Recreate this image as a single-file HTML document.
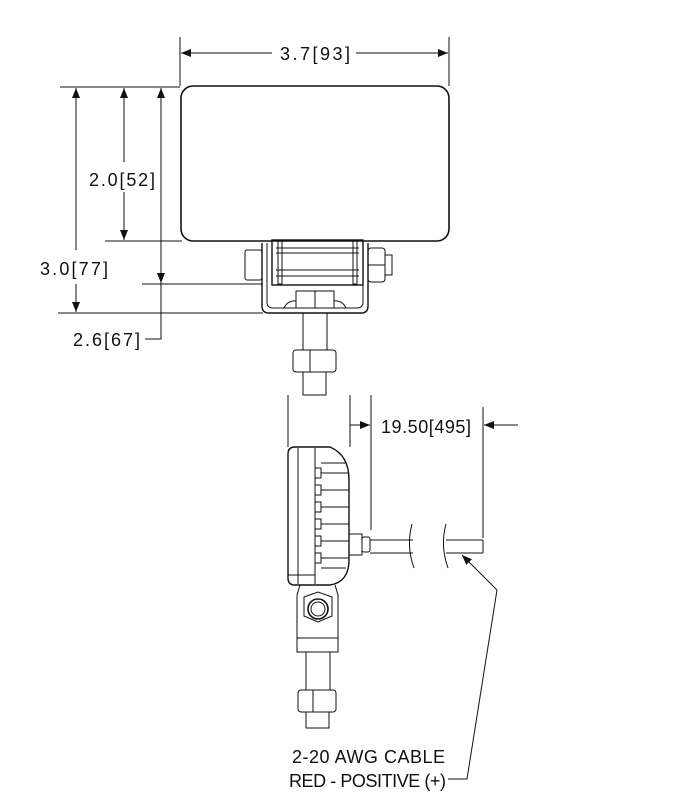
<!DOCTYPE html>
<html><head><meta charset="utf-8"><style>
html,body{margin:0;padding:0;background:#fff}
svg{display:block}
text{font-family:"Liberation Sans",sans-serif;font-size:18px;fill:#111}
</style></head><body>
<svg width="675" height="800" viewBox="0 0 675 800" xmlns="http://www.w3.org/2000/svg">
<defs>
<marker id="a" markerWidth="10" markerHeight="8" refX="10" refY="4" orient="auto" markerUnits="userSpaceOnUse"><path d="M0,0 L10,4 L0,8 Z" fill="#111"/></marker>
</defs>
<g stroke="#111" fill="none" stroke-width="1">
<line x1="180" y1="37" x2="180" y2="86"/><line x1="449" y1="37" x2="449" y2="86"/>
<line x1="272" y1="53" x2="181" y2="53" marker-end="url(#a)"/>
<line x1="356" y1="53" x2="448" y2="53" marker-end="url(#a)"/>
<line x1="60" y1="87" x2="180" y2="87"/>
<line x1="105" y1="241" x2="182" y2="241"/>
<line x1="142" y1="284" x2="263" y2="284"/>
<line x1="58" y1="313" x2="263" y2="313"/>
<line x1="76" y1="250" x2="76" y2="88" marker-end="url(#a)"/>
<line x1="76" y1="284" x2="76" y2="312" marker-end="url(#a)"/>
<line x1="124" y1="162" x2="124" y2="88" marker-end="url(#a)"/>
<line x1="124" y1="192" x2="124" y2="240" marker-end="url(#a)"/>
<line x1="161" y1="180" x2="161" y2="88" marker-end="url(#a)"/>
<line x1="161" y1="180" x2="161" y2="283" marker-end="url(#a)"/>
<polyline points="161,283 161,339 145,339"/>
<rect x="181" y="86" width="268" height="155" rx="12" stroke-width="1.6"/>
<path d="M262,243 V306 Q262,313 269,313 H361 Q368,313 368,306 V243" stroke-width="1.4"/>
<path d="M267,243 V302 Q267,308 273,308 H357 Q363,308 363,302 V243"/>
<rect x="272" y="240" width="91" height="45" stroke-width="1.4"/>
<line x1="276" y1="248" x2="359" y2="248"/><line x1="276" y1="253" x2="359" y2="253"/>
<line x1="276" y1="270" x2="359" y2="270"/><line x1="276" y1="276" x2="359" y2="276"/>
<rect x="278" y="241" width="4" height="43"/><rect x="353" y="241" width="4" height="43"/>
<rect x="245" y="250" width="17" height="30" rx="2"/>
<rect x="368" y="248" width="17" height="34" rx="3"/><line x1="368" y1="265" x2="385" y2="265"/>
<rect x="385" y="255" width="7" height="20"/>
<rect x="296" y="291" width="38" height="17"/><line x1="315" y1="291" x2="315" y2="308"/>
<path d="M284,308 Q288,300 296,301 M334,301 Q342,300 346,308"/>
<rect x="303" y="313" width="24" height="37"/>
<rect x="293" y="350" width="43" height="22" rx="3"/><line x1="310" y1="350" x2="310" y2="372"/>
<rect x="303" y="372" width="23" height="23"/>
<line x1="288" y1="395" x2="288" y2="447"/>
<line x1="350" y1="395" x2="350" y2="447"/>
<line x1="371" y1="395" x2="371" y2="530"/>
<line x1="483" y1="407" x2="483" y2="538"/>
<line x1="350" y1="425" x2="370" y2="425" marker-end="url(#a)"/>
<line x1="518" y1="425" x2="484" y2="425" marker-end="url(#a)"/>
<path d="M295,447 H330 Q349,455 349,480 V560 Q349,582 330,585 H295 Q288,585 288,578 V454 Q288,447 295,447 Z" stroke-width="1.4"/>
<line x1="298" y1="448" x2="298" y2="584"/>
<line x1="288" y1="575" x2="315" y2="575"/>
<line x1="315" y1="448" x2="315" y2="584"/>
<g>
<rect x="315" y="468" width="6" height="10"/><rect x="315" y="485" width="6" height="10"/>
<rect x="315" y="502" width="6" height="10"/><rect x="315" y="519" width="6" height="10"/>
<rect x="315" y="536" width="6" height="10"/><rect x="315" y="553" width="6" height="10"/>
<line x1="321" y1="473" x2="349" y2="473"/><line x1="321" y1="490" x2="349" y2="490"/>
<line x1="321" y1="507" x2="349" y2="507"/><line x1="321" y1="524" x2="349" y2="524"/>
<line x1="321" y1="541" x2="349" y2="541"/><line x1="321" y1="558" x2="349" y2="558"/>
<line x1="321" y1="463" x2="346" y2="463"/><line x1="321" y1="568" x2="346" y2="568"/>
</g>
<rect x="349" y="534" width="13" height="21"/><rect x="362" y="537" width="8" height="15" rx="2"/>
<line x1="370" y1="540" x2="413" y2="540"/><line x1="370" y1="553" x2="413" y2="553"/>
<line x1="446" y1="540" x2="483" y2="540"/><line x1="446" y1="553" x2="483" y2="553"/>
<line x1="483" y1="540" x2="483" y2="553"/>
<path d="M412,524 Q406,546 414,568"/><path d="M446,524 Q440,546 448,568"/>
<path d="M300,585 L297,595 V652 H338 V595 L335,585"/>
<line x1="297" y1="638" x2="338" y2="638"/>
<path d="M304,597 L318,592 L332,597 V616 L318,622 L304,616 Z"/>
<circle cx="318" cy="609" r="10" stroke-width="1.6"/><circle cx="318" cy="609" r="7"/>
<rect x="306" y="652" width="24" height="38"/>
<rect x="298" y="690" width="38" height="22" rx="3"/><line x1="313" y1="690" x2="313" y2="712"/>
<rect x="306" y="712" width="23" height="16"/>
<polyline points="497,590 467,779 448,779"/>
<line x1="497" y1="590" x2="462" y2="555" marker-end="url(#a)"/>
</g>
<text x="280" y="60" textLength="70" lengthAdjust="spacing">3.7[93]</text>
<text x="89" y="186" textLength="66" lengthAdjust="spacing">2.0[52]</text>
<text x="40" y="275" textLength="68" lengthAdjust="spacing">3.0[77]</text>
<text x="73" y="346" textLength="67" lengthAdjust="spacing">2.6[67]</text>
<text x="381" y="433" textLength="90" lengthAdjust="spacing">19.50[495]</text>
<text x="292" y="763" textLength="153" lengthAdjust="spacing">2-20 AWG CABLE</text>
<text x="289" y="787" textLength="157" lengthAdjust="spacing">RED - POSITIVE (+)</text>
</svg>
</body></html>
